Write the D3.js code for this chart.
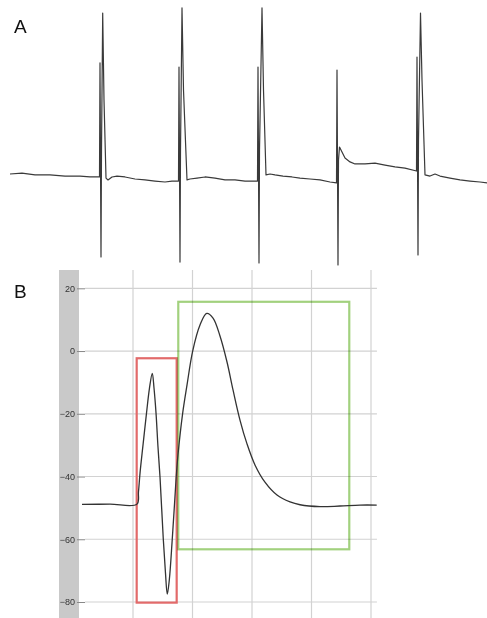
<!DOCTYPE html>
<html>
<head>
<meta charset="utf-8">
<script src="https://d3js.org/d3.v7.min.js"></script>
<style>
body { margin:0; background:#fff; }
svg { display:block; font-family:"Liberation Sans", Arial, sans-serif; }
</style>
</head>
<body>
<svg width="487" height="618"></svg>
<script>
// Panel A: spontaneous recording, time in ms, membrane potential in mV
var traceA_t = [0,120,250,400,550,700,800,895,
  900,910,915,927,940,960,980,1020,1070,1150,1250,1350,1450,1550,1620,1685,
  1690,1700,1705,1720,1735,1770,1800,1870,1950,2050,2150,2250,2350,2475,
  2480,2490,2495,2520,2535,2560,2600,2650,2730,2820,2900,3000,3100,3200,3265,
  3270,3280,3285,3295,3310,3350,3400,3450,3550,3650,3750,3850,3950,4065,
  4070,4080,4085,4105,4120,4150,4200,4250,4300,4400,4500,4600,4700,4770];
var traceA_v = [-51.0,-50.5,-51.5,-51.5,-52.1,-52.1,-52.6,-52.6,
  8.8,-95.7,-38.1,35.7,-11.2,-53.2,-54.2,-52.6,-52.1,-52.6,-53.7,-54.2,-54.8,-55.3,-54.8,-54.8,
  6.6,-98.4,-38.1,38.4,-5.8,-54.2,-53.7,-53.2,-52.6,-53.2,-54.2,-54.2,-54.8,-54.8,
  6.6,-98.9,-38.1,38.4,-5.8,-51.5,-51.0,-51.5,-52.1,-52.6,-53.2,-53.7,-54.2,-55.3,-55.8,
  5.0,-100,-43.5,-36.5,-38.1,-42.4,-44.5,-45.6,-45.6,-45.1,-46.2,-47.2,-47.8,-49.4,
  12.0,-94.6,-32.7,35.7,-0.4,-51.5,-52.1,-51.0,-52.1,-53.2,-54.2,-54.8,-55.3,-55.8];

// Panel B: single action potential, time in ms, potential in mV
var traceB_t = [0.143,0.613,1.067,1.092,1.118,1.168,1.227,1.277,1.324,1.353,1.387,1.420,1.454,1.509,1.546,1.576,
  1.610,1.659,1.697,1.726,1.756,1.835,1.908,2.003,2.126,2.239,2.345,2.462,2.580,2.681,2.798,
  2.916,3.050,3.218,3.420,3.639,3.807,4.143,4.479,4.815,5.096];
var traceB_v = [-48.9,-48.8,-48.8,-44.9,-38.9,-30.0,-19.8,-11.8,-7.1,-11.8,-19.8,-30.6,-40.2,-59.9,-70.8,-77.5,
  -73.0,-60.2,-49.0,-40.2,-33.1,-19.8,-10.8,0,8.3,12.0,10.5,4.8,-3.5,-12.4,-22.0,
  -29.6,-36.3,-41.8,-45.9,-48.1,-49.0,-49.6,-49.4,-49.1,-49.1];
var yTicksB = [20, 0, -20, -40, -60, -80];
var xGridB = [1, 2, 3, 4, 5];
// highlighted phases: [t0, t1, vTop, vBottom]
var redBox = [1.062, 1.734, -2.3, -80.2];
var greenBox = [1.761, 4.635, 15.7, -63.2];

var svg = d3.select("svg");

// ---------- panel A ----------
var xA = d3.scaleLinear().domain([0, 4770]).range([10, 487]);
var yA = d3.scaleLinear().domain([-100, 40]).range([265, 5]);
var dataA = traceA_t.map((t, i) => ({t: t, v: traceA_v[i]}));

svg.append("text")
  .attr("x", 14).attr("y", 33)
  .style("font-size", "19px")
  .style("fill", "#111")
  .text("A");

svg.append("path")
  .datum(dataA)
  .attr("fill", "none")
  .attr("stroke", "#3a3a3a")
  .attr("stroke-width", 1.2)
  .attr("stroke-linejoin", "round")
  .attr("d", d3.line().x(d => xA(d.t)).y(d => yA(d.v)));

// ---------- panel B ----------
var xB = d3.scaleLinear().domain([0, 5]).range([73.5, 371]);
var yB = d3.scaleLinear().domain([-80, 20]).range([602, 288.3]);
var dataB = traceB_t.map((t, i) => ({t: t, v: traceB_v[i]}));
var topB = 270, botB = 618;

svg.append("text")
  .attr("x", 14).attr("y", 298)
  .style("font-size", "19px")
  .style("fill", "#111")
  .text("B");

// gray strip behind the y labels
svg.append("rect")
  .attr("x", 59).attr("y", topB)
  .attr("width", 20).attr("height", botB - topB)
  .attr("fill", "#c9c9c9");

var grid = svg.append("g");
grid.selectAll(".vg")
  .data(xGridB)
  .enter().append("line")
  .attr("x1", d => xB(d)).attr("x2", d => xB(d))
  .attr("y1", topB).attr("y2", botB)
  .attr("stroke", "#d2d2d2").attr("stroke-width", 1.2);
grid.selectAll(".hg")
  .data(yTicksB)
  .enter().append("line")
  .attr("x1", 85).attr("x2", xB(5.1))
  .attr("y1", d => yB(d)).attr("y2", d => yB(d))
  .attr("stroke", "#d2d2d2").attr("stroke-width", 1.2);

var yAxisB = svg.append("g")
  .attr("transform", "translate(85,0)")
  .call(d3.axisLeft(yB).tickValues(yTicksB).tickSize(8).tickPadding(2));
yAxisB.select(".domain").remove();
yAxisB.selectAll(".tick line").attr("stroke", "#888");
yAxisB.selectAll(".tick text")
  .style("font-size", "9px")
  .style("font-family", "'Liberation Sans', Arial, sans-serif")
  .attr("fill", "#333");

svg.append("rect")
  .attr("x", xB(redBox[0])).attr("y", yB(redBox[2]))
  .attr("width", xB(redBox[1]) - xB(redBox[0]))
  .attr("height", yB(redBox[3]) - yB(redBox[2]))
  .attr("fill", "none")
  .attr("stroke", "#e26a6a")
  .attr("stroke-width", 2.2);

svg.append("rect")
  .attr("x", xB(greenBox[0])).attr("y", yB(greenBox[2]))
  .attr("width", xB(greenBox[1]) - xB(greenBox[0]))
  .attr("height", yB(greenBox[3]) - yB(greenBox[2]))
  .attr("fill", "none")
  .attr("stroke", "#a2d17e")
  .attr("stroke-width", 2.2)
  .style("mix-blend-mode", "multiply");

svg.append("path")
  .datum(dataB)
  .attr("fill", "none")
  .attr("stroke", "#333")
  .attr("stroke-width", 1.3)
  .attr("d", d3.line().curve(d3.curveCatmullRom).x(d => xB(d.t)).y(d => yB(d.v)));
</script>
</body>
</html>
